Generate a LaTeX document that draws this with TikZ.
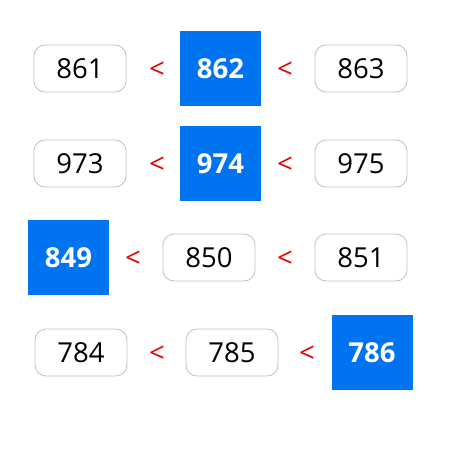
\documentclass[tikz,border=0pt]{standalone}
\usepackage{fontspec}
\setmainfont{Open Sans}
\usepackage{tikz}
\usetikzlibrary{positioning}
\definecolor{boxgray}{RGB}{192,192,192}
\definecolor{hitblue}{RGB}{0,116,240}
\definecolor{ltred}{RGB}{230,0,0}
\tikzset{
    num/.style = {draw=boxgray,line width=0.8pt,rounded corners=11pt,minimum width=92pt,minimum height=47pt,inner sep=0,font=\fontsize{27.5}{30}\selectfont},
    hit/.style = {fill=hitblue,text=white,minimum width=81pt,minimum height=75pt,inner sep=0,font=\fontsize{27.5}{30}\selectfont\bfseries},
    lt/.style = {text=ltred,inner sep=0,font=\fontsize{27.5}{30}\selectfont}
}
\begin{document}
\begin{tikzpicture}[x=1pt,y=-1pt]
    \useasboundingbox (0,0) rectangle (453,450);
    % Row 1
    \node[num] (r1a) at (80,68.5) {861};
    \node[lt] (r1l1) at (157,70) {<};
    \node[hit] (r1b) at (220.5,68.5) {862};
    \node[lt] (r1l2) at (285,70) {<};
    \node[num] (r1c) at (361,68.5) {863};
    % Row 2
    \node[num] (r2a) at (80,163.5) {973};
    \node[lt] (r2l1) at (157,165) {<};
    \node[hit] (r2b) at (220.5,163.5) {974};
    \node[lt] (r2l2) at (285,165) {<};
    \node[num] (r2c) at (361,163.5) {975};
    % Row 3
    \node[hit] (r3a) at (68.5,257.5) {849};
    \node[lt] (r3l1) at (133,259) {<};
    \node[num] (r3b) at (209,257.5) {850};
    \node[lt] (r3l2) at (285,259) {<};
    \node[num] (r3c) at (361,257.5) {851};
    % Row 4
    \node[num] (r4a) at (81,352.5) {784};
    \node[lt] (r4l1) at (157,354) {<};
    \node[num] (r4b) at (232,352.5) {785};
    \node[lt] (r4l2) at (307,354) {<};
    \node[hit] (r4c) at (372,352.5) {786};
\end{tikzpicture}
\end{document}
